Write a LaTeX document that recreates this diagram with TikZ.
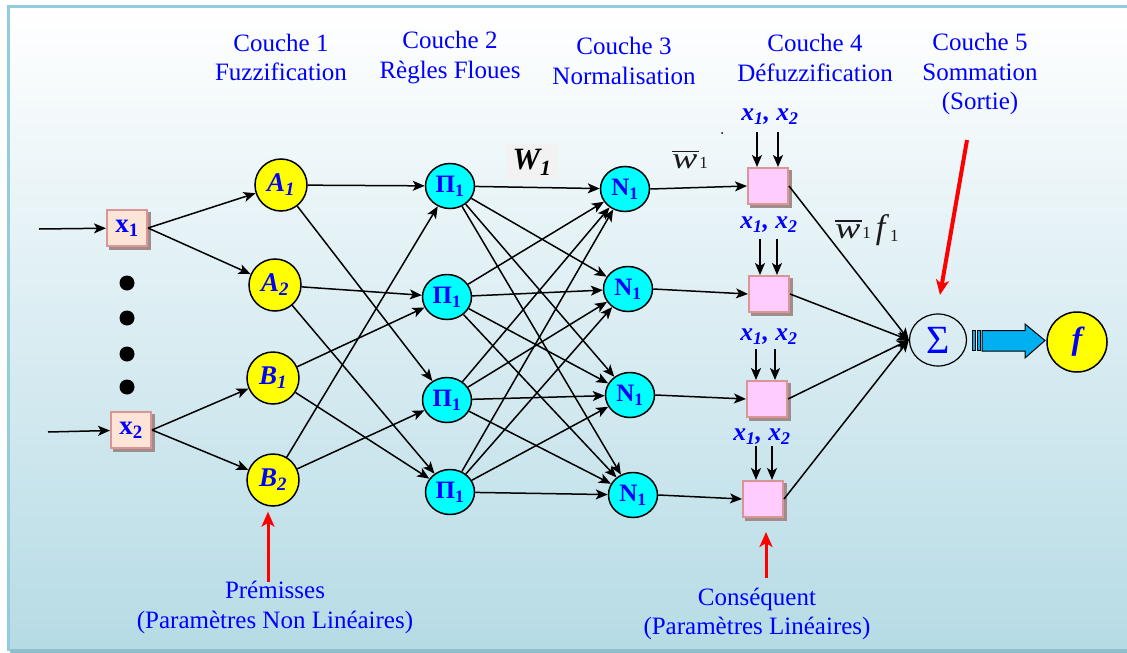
\documentclass[tikz,border=0pt]{standalone}
\usepackage{fontspec}
\setmainfont{Liberation Serif}
\usetikzlibrary{arrows.meta,shapes.geometric,shadows}

\definecolor{framebl}{HTML}{93CDDD}
\definecolor{framebot}{HTML}{8EBFCC}
\definecolor{bgbot}{HTML}{B6DBE5}
\definecolor{peach}{HTML}{FCE4D6}
\definecolor{rosy}{HTML}{D99694}
\definecolor{pinkbox}{HTML}{FFCCFF}
\definecolor{boxshadow}{HTML}{A08C8C}
\definecolor{layercyan}{HTML}{00FFFF}
\definecolor{fuzzyellow}{HTML}{FFFF00}
\definecolor{sumarrow}{HTML}{00B0F0}
\definecolor{labelblue}{HTML}{0000FF}
\definecolor{wgray}{HTML}{F2F2F2}
\definecolor{redmark}{HTML}{FF0000}
\definecolor{eqgray}{HTML}{1A1A1A}

% normalised weight symbol: a wide italic w with a bar over it
\newcommand\wbar{\leavevmode\vbox{\offinterlineskip\halign{##\cr
  \hfil\vrule width 0.9em height 1.2pt\hfil\cr\noalign{\kern 3pt}
  \scalebox{1.25}[1]{\itshape w}\cr}}}
\newcommand\smallidx[1]{{\fontsize{17}{17}\selectfont #1}}

\tikzset{
  link/.style={-{Stealth[length=12pt,width=10pt,inset=3pt]}, line width=1.5pt},
  redarrow/.style={-{Stealth[length=15pt,width=13pt,inset=4pt]}, line width=3pt, redmark},
  mf/.style={circle, draw, line width=1.5pt, fill=fuzzyellow, minimum size=52pt,
    inner sep=0pt, text=labelblue, font=\bfseries\itshape\fontsize{27}{27}\selectfont},
  rulenode/.style={ellipse, draw, line width=1.5pt, fill=layercyan, minimum width=49pt,
    minimum height=45pt, inner sep=0pt, text=labelblue, font=\bfseries\fontsize{25}{25}\selectfont},
  boxbase/.style={rectangle, draw=rosy, line width=2pt, minimum width=40pt,
    minimum height=36pt, inner sep=0pt,
    copy shadow={shadow xshift=3pt, shadow yshift=-3pt, fill=boxshadow, draw=boxshadow}},
  inbox/.style={boxbase, fill=peach, text=labelblue, font=\bfseries\fontsize{27}{27}\selectfont},
  defbox/.style={boxbase, fill=pinkbox},
  heading/.style={align=center, text=labelblue, font=\fontsize{25}{29.5}\selectfont},
  varpair/.style={text=labelblue, font=\bfseries\itshape\fontsize{25.5}{25.5}\selectfont},
}

\begin{document}
\begin{tikzpicture}[x=1pt,y=-1pt]
\useasboundingbox (0,0) rectangle (1127,653);

% background panel with its frame
\fill[white] (0,0) rectangle (1127,653);
\shade[top color=white, bottom color=bgbot] (8,7) rectangle (1127,650);
\fill[framebot] (10,649) rectangle (1127,653);
\draw[framebl, line width=3pt] (8,651) -- (8,6.5) -- (1127,6.5);

% layer headings
\node[heading] (h1) at (281,57.5) {Couche 1\\Fuzzification};
\node[heading] (h2) at (450,57.5) {Couche 2\\Règles Floues};
\node[heading] (h3) at (624,61) {Couche 3\\Normalisation};
\node[heading] (h4) at (815,58) {Couche 4\\Défuzzification};
\node[heading] (h5) at (980,74) {Couche 5\\Sommation\\(Sortie)};

% inputs
\node[inbox] (in1) at (127,228) {x\textsubscript{1}};
\node[inbox] (in2) at (131,430) {x\textsubscript{2}};
\coordinate (src1) at (39,229);
\coordinate (src2) at (48,432);
\draw[link] (src1) -- (in1);
\draw[link] (src2) -- (in2);
\foreach \yy in {283,318,354,387}
  \fill (127,\yy) circle[radius=7.5pt];

% layer 1: membership functions
\node[mf] (A1) at (281,185) {A\textsubscript{1}};
\node[mf] (A2) at (275,285) {A\textsubscript{2}};
\node[mf] (B1) at (273,378) {B\textsubscript{1}};
\node[mf] (B2) at (273,480) {B\textsubscript{2}};

% layer 2: rules
\node[rulenode] (P1) at (450,186) {Π\textsubscript{1}};
\node[rulenode] (P2) at (447,297) {Π\textsubscript{1}};
\node[rulenode] (P3) at (447,400) {Π\textsubscript{1}};
\node[rulenode] (P4) at (450,492) {Π\textsubscript{1}};

% layer 3: normalisation
\node[rulenode] (N1) at (625,189) {N\textsubscript{1}};
\node[rulenode] (N2) at (628,289) {N\textsubscript{1}};
\node[rulenode] (N3) at (630,395) {N\textsubscript{1}};
\node[rulenode] (N4) at (633,495) {N\textsubscript{1}};

% layer 4: defuzzification
\node[defbox] (D1) at (768,186) {};
\node[defbox] (D2) at (769,294) {};
\node[defbox] (D3) at (767,399) {};
\node[defbox] (D4) at (763,499) {};

% layer 5: sum and output
\node[ellipse, draw, line width=1.2pt, minimum width=57pt, minimum height=52pt,
      inner sep=0pt, text=labelblue, font=\fontsize{40}{40}\selectfont] (S) at (938,340) {Σ};
\node[circle, draw, line width=1.5pt, fill=fuzzyellow, minimum size=60pt, inner sep=0pt,
      text=labelblue, font=\bfseries\itshape\fontsize{32}{32}\selectfont] (F) at (1077,342) {f};

% input to membership links
\draw[link] (in1.east) -- (A1);
\draw[link] (in1.east) -- (A2);
\draw[link] (in2.east) -- (B1);
\draw[link] (in2.east) -- (B2);

% membership to rule links
\draw[link] (A1) -- (P1);
\draw[link] (A1) -- (P3);
\draw[link] (A2) -- (P2);
\draw[link] (A2) -- (P4);
\draw[link] (B1) -- (P2);
\draw[link] (B1) -- (P4);
\draw[link] (B2) -- (P1);
\draw[link] (B2) -- (P3);

% every rule feeds every normalisation node
\foreach \p in {P1,P2,P3,P4}
  \foreach \n in {N1,N2,N3,N4}
    \draw[link] (\p) -- (\n);

% normalisation to defuzzification
\foreach \i in {1,2,3,4}
  \draw[link] (N\i.east) -- (D\i.west);

% defuzzification to sum
\foreach \i in {1,2,3,4}
  \draw[link] (D\i.east) -- (S.west);

% input pairs feeding each defuzzification box
\node[varpair] (v1) at (770,117) {x\textsubscript{1}, x\textsubscript{2}};
\node[varpair] (v2) at (769,225) {x\textsubscript{1}, x\textsubscript{2}};
\node[varpair] (v3) at (769,337) {x\textsubscript{1}, x\textsubscript{2}};
\node[varpair] (v4) at (762,437) {x\textsubscript{1}, x\textsubscript{2}};
\foreach \i/\dl/\dr/\len in {1/-11/10/35, 2/-9/8/36, 3/-11/8/31, 4/-7/9/34} {
  \draw[link] ([xshift=\dl pt, yshift=\len pt]D\i.north) -- ([xshift=\dl pt]D\i.north);
  \draw[link] ([xshift=\dr pt, yshift=\len pt]D\i.north) -- ([xshift=\dr pt]D\i.north);
}
\fill (722,133) circle[radius=1pt];

% weight labels
\node[fill=wgray, minimum width=52pt, minimum height=36pt, inner sep=0pt,
      font=\bfseries\itshape\fontsize{31}{31}\selectfont] (W) at (532,162) {W\textsubscript{1}};
\node[text=eqgray, font=\fontsize{30}{30}\selectfont, inner sep=0pt] (wn) at (690,160)
  {\wbar\smallidx{1}};
\node[text=eqgray, font=\fontsize{30}{30}\selectfont, inner sep=0pt] (wf) at (867,230)
  {\wbar\smallidx{1}\,{\fontsize{34}{34}\selectfont\itshape f}\,\smallidx{\raisebox{-3pt}{1}}};

% striped block arrow from the sum to the output
\filldraw[fill=sumarrow, draw=black, line width=0.8pt]
  (972,330.5) rectangle (975,350.5)
  (977,330.5) rectangle (980,350.5);
\filldraw[fill=sumarrow, draw=black, line width=1pt]
  (982,330.5) -- (1025,330.5) -- (1025,324) -- (1045,340.5) -- (1025,358)
  -- (1025,351) -- (982,351) -- cycle;

% parameter annotations
\coordinate (outsrc) at (967,140);
\coordinate (outtip) at (940,295);
\draw[redarrow, line width=4pt] (outsrc) -- (outtip);
\coordinate (premsrc) at (268,582);
\draw[redarrow] (premsrc) -- ([yshift=-5pt]B2.south -| premsrc);
\coordinate (conssrc) at (766,578);
\draw[redarrow] (conssrc) -- ([yshift=-14pt]D4.south -| conssrc);
\node[heading] (prem) at (275,607.5) {Prémisses\\(Paramètres Non Linéaires)};
\node[heading] (cons) at (757,614) {Conséquent\\(Paramètres Linéaires)};
\end{tikzpicture}
\end{document}
